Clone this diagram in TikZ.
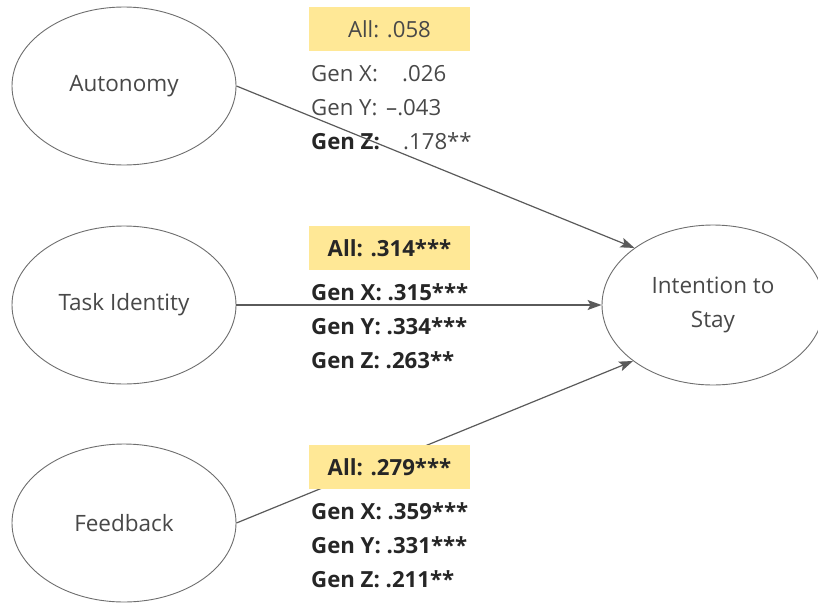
\documentclass[tikz,border=0pt]{standalone}
\usepackage{fontspec}
\setmainfont{Open Sans}
\usetikzlibrary{shapes.geometric,arrows.meta}
\definecolor{linegray}{HTML}{5A5A5A}
\definecolor{edgegray}{HTML}{6E6E6E}
\definecolor{boxyellow}{HTML}{FFE896}
\definecolor{txtdark}{HTML}{262626}
\definecolor{txtlight}{HTML}{484848}
\tikzset{
  construct/.style={ellipse, draw=edgegray, line width=0.9pt, fill=white,
    minimum width=224pt, minimum height=158pt, inner sep=0pt,
    font=\fontsize{22.5}{34}\selectfont, text=txtlight, align=center},
  path/.style={draw=linegray, line width=1.2pt,
    -{Stealth[length=14pt,width=10pt,inset=3pt]}},
  allbox/.style={fill=boxyellow, minimum width=161pt, minimum height=44pt,
    inner sep=0pt, font=\fontsize{22.2}{26}\selectfont},
  row/.style={anchor=base west, inner sep=0pt, font=\fontsize{22.2}{26}\selectfont},
}
\begin{document}
\begin{tikzpicture}[x=1pt,y=-1pt]
\useasboundingbox (0,0) rectangle (818,605);
% constructs
\node[construct] (aut) at (124,86) {Autonomy};
\node[construct] (tid) at (124,305) {Task Identity};
\node[construct] (fbk) at (124,523) {Feedback};
\node[construct, minimum width=222pt, minimum height=160pt] (its) at (713,305) {Intention to\\Stay};
% group 1 rows
\node[row, text=txtlight] (g1x) at (311,81) {Gen X:};
\node[row, text=txtlight] (g1xv) at (402,81) {.026};
\node[row, text=txtlight] (g1y) at (311,115) {Gen Y:};
\node[row, text=txtlight] (g1yv) at (386,115) {–.043};
\node[row, text=txtdark] (g1z) at (311,149) {\bfseries Gen Z:};
\node[row, text=txtlight] (g1zv) at (403,149) {.178**};
% group 2 rows
\node[row, text=txtdark] (g2x) at (311,300) {\bfseries Gen X: .315***};
\node[row, text=txtdark] (g2y) at (311,334) {\bfseries Gen Y: .334***};
\node[row, text=txtdark] (g2z) at (311,368) {\bfseries Gen Z: .263**};
% group 3 rows
\node[row, text=txtdark] (g3x) at (311,519) {\bfseries Gen X: .359***};
\node[row, text=txtdark] (g3y) at (311,553) {\bfseries Gen Y: .331***};
\node[row, text=txtdark] (g3z) at (311,587) {\bfseries Gen Z: .211**};
% paths
\draw[path] (aut.east) -- (its.144.5);
\draw[path] (tid.east) -- (its.west);
\draw[path] (fbk.east) -- (its.215.5);
% boxes
\node[allbox, text=txtlight] (all1) at (389.5,29) {All: .058};
\node[allbox, text=txtdark] (all2) at (389.5,248) {\bfseries All: .314***};
\node[allbox, text=txtdark] (all3) at (389.5,467) {\bfseries All: .279***};
\end{tikzpicture}
\end{document}
